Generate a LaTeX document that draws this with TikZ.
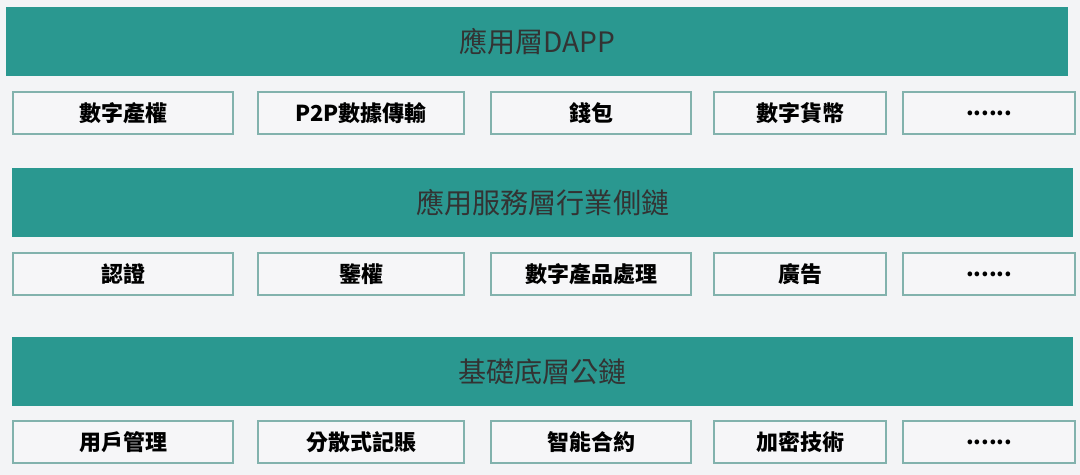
\documentclass[tikz,border=0pt]{standalone}
\usepackage{fontspec}
\setmainfont{Noto Sans CJK TC}
\usetikzlibrary{positioning}

\definecolor{layerteal}{HTML}{2A9890}
\definecolor{pagegray}{HTML}{F3F4F6}
\definecolor{cellline}{HTML}{82B2AD}
\definecolor{cellfill}{HTML}{F6F6F8}

\begin{document}
\begin{tikzpicture}[
        x=0.02cm, y=-0.02cm,
        every node/.style={inner sep=0pt, align=center},
        layer/.style={fill=layerteal, anchor=north west, minimum height=1.38cm, text=black!80, font=\fontsize{16}{18}\selectfont},
        cell/.style={draw=cellline, line width=1.3pt, fill=cellfill, anchor=north west, minimum height=0.84cm, font=\bfseries\fontsize{12.5}{14}\selectfont}
    ]

    % Background
    \fill[pagegray] (0,0) rectangle (1080,475);

    % Layers
    \node (dapp)[layer, minimum width=21.24cm] at (6,7) {應用層DAPP};
    \node (service)[layer, minimum width=21.22cm] at (12,168) {應用服務層行業側鏈};
    \node (base)[layer, minimum width=21.22cm] at (12,337) {基礎底層公鏈};

    % Row under DAPP
    \node (copyright)[cell, minimum width=4.4cm] at (12,91) {數字產權};
    \node (ptop)[cell, minimum width=4.12cm] at (257,91) {P2P數據傳輸};
    \node (wallet)[cell, minimum width=4.0cm] at (490,91) {錢包};
    \node (currency)[cell, minimum width=3.44cm] at (713,91) {數字貨幣};
    \node (moreA)[cell, minimum width=3.44cm] at (902,91) {......};

    % Row under service layer
    \node (auth)[cell, minimum width=4.4cm] at (12,252) {認證};
    \node (perm)[cell, minimum width=4.12cm] at (257,252) {鑒權};
    \node (product)[cell, minimum width=4.0cm] at (490,252) {數字產品處理};
    \node (advert)[cell, minimum width=3.44cm] at (713,252) {廣告};
    \node (moreB)[cell, minimum width=3.44cm] at (902,252) {......};

    % Row under base layer
    \node (user)[cell, minimum width=4.4cm] at (12,420) {用戶管理};
    \node (ledger)[cell, minimum width=4.12cm] at (257,420) {分散式記賬};
    \node (contract)[cell, minimum width=4.0cm] at (490,420) {智能合約};
    \node (crypto)[cell, minimum width=3.44cm] at (713,420) {加密技術};
    \node (moreC)[cell, minimum width=3.44cm] at (902,420) {......};

\end{tikzpicture}
\end{document}
